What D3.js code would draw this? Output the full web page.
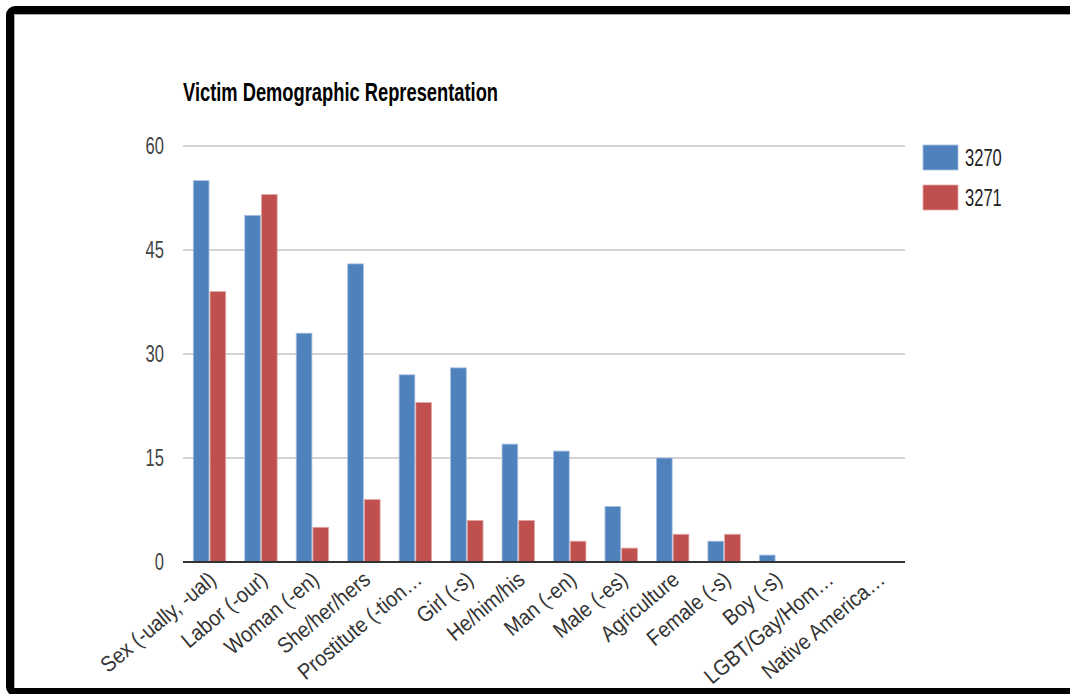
<!DOCTYPE html>
<html>
<head>
<meta charset="utf-8">
<script src="https://cdn.jsdelivr.net/npm/d3@7"></script>
<style>
  body { margin: 0; background: #fff; }
  svg text { font-family: "Liberation Sans", Arial, sans-serif; }
</style>
</head>
<body>
<svg id="chart" width="1070" height="694"></svg>
<script>
// chart values
const categories = [
    "Sex (-ually, -ual)", "Labor (-our)", "Woman (-en)", "She/her/hers",
    "Prostitute (-tion…", "Girl (-s)", "He/him/his", "Man (-en)",
    "Male (-es)", "Agriculture", "Female (-s)", "Boy (-s)",
    "LGBT/Gay/Hom…", "Native America…"
];
const seriesNames = ["3270", "3271"];
const values3270 = [55, 50, 33, 43, 27, 28, 17, 16, 8, 15, 3, 1, 0, 0];
const values3271 = [39, 53, 5, 9, 23, 6, 6, 3, 2, 4, 4, 0, 0, 0];
const yTicks = [0, 15, 30, 45, 60];
const colors = ["#4f81bd", "#c0504d"];

// layout
const plotLeft = 183, plotRight = 905, plotTop = 146, plotBottom = 562;
const squeeze = 0.72; // the picture is narrower than it is tall

const svg = d3.select("#chart");

// frame
svg.append("rect")
    .attr("x", 10).attr("y", 10)
    .attr("width", 1100).attr("height", 682)
    .attr("rx", 5)
    .attr("fill", "none")
    .attr("stroke", "#000")
    .attr("stroke-width", 8);
svg.append("path")
    .attr("d", "M1070,14.5 L14.5,14.5 L14.5,687")
    .attr("fill", "none")
    .attr("stroke", "#aaa")
    .attr("stroke-width", 1);

// title
svg.append("text")
    .attr("x", 183).attr("y", 101)
    .attr("textLength", 315)
    .attr("lengthAdjust", "spacingAndGlyphs")
    .style("font-size", "26px")
    .style("font-weight", "bold")
    .style("fill", "#000")
    .text("Victim Demographic Representation");

// scales
const y = d3.scaleLinear().domain([0, 60]).range([plotBottom, plotTop]);
const x0 = d3.scaleBand().domain(categories).range([plotLeft, plotRight])
    .paddingInner(0.37).paddingOuter(0.2);
const x1 = d3.scaleBand().domain(seriesNames).range([0, x0.bandwidth()]).paddingInner(0.06);

// gridlines
svg.selectAll(".grid")
    .data(yTicks.filter(d => d > 0))
    .enter().append("line")
    .attr("class", "grid")
    .attr("x1", plotLeft).attr("x2", plotRight)
    .attr("y1", d => y(d)).attr("y2", d => y(d))
    .attr("stroke", "#c4c4c4")
    .attr("stroke-width", 1.5);

// y tick labels
svg.selectAll(".ytick")
    .data(yTicks)
    .enter().append("text")
    .attr("class", "ytick")
    .attr("transform", d => `translate(164,${y(d)}) scale(${squeeze},1)`)
    .attr("dy", "0.36em")
    .style("text-anchor", "end")
    .style("font-size", "23px")
    .style("fill", "#444")
    .text(d => d);

// bars
const groups = svg.selectAll(".group")
    .data(categories)
    .enter().append("g")
    .attr("class", "group")
    .attr("transform", d => `translate(${x0(d)},0)`);

groups.selectAll("rect")
    .data((d, i) => [values3270[i], values3271[i]].map((v, k) => ({ key: seriesNames[k], value: v, k: k })))
    .enter().append("rect")
    .filter(d => d.value > 0)
    .attr("x", d => x1(d.key))
    .attr("y", d => y(d.value))
    .attr("width", x1.bandwidth())
    .attr("height", d => y(0) - y(d.value))
    .attr("fill", d => colors[d.k])
    .attr("stroke", d => d.k === 0 ? "#a9c0e0" : "#e0a8a6")
    .attr("stroke-width", 0.8);

// baseline
svg.append("line")
    .attr("x1", plotLeft).attr("x2", plotRight)
    .attr("y1", y(0)).attr("y2", y(0))
    .attr("stroke", "#333")
    .attr("stroke-width", 2);

// x labels, narrow text tilted
svg.selectAll(".xlabel")
    .data(categories)
    .enter().append("text")
    .attr("class", "xlabel")
    .attr("transform", d => `translate(${x0(d) + x0.bandwidth() / 2 + 3},576) rotate(-40) scale(0.9,1)`)
    .attr("dy", "0.35em")
    .style("text-anchor", "end")
    .style("font-size", "22px")
    .style("fill", "#333")
    .text(d => d);

// legend
const legend = svg.selectAll(".legend")
    .data(seriesNames)
    .enter().append("g")
    .attr("class", "legend")
    .attr("transform", (d, i) => `translate(923,${145 + i * 40})`);

legend.append("rect")
    .attr("width", 35).attr("height", 25)
    .attr("fill", (d, i) => colors[i])
    .attr("stroke", (d, i) => i === 0 ? "#a9c0e0" : "#e0a8a6")
    .attr("stroke-width", 0.8);

legend.append("text")
    .attr("transform", `translate(42,13) scale(${squeeze},1)`)
    .attr("dy", "0.36em")
    .style("font-size", "23px")
    .style("fill", "#222")
    .text(d => d);
</script>
</body>
</html>
